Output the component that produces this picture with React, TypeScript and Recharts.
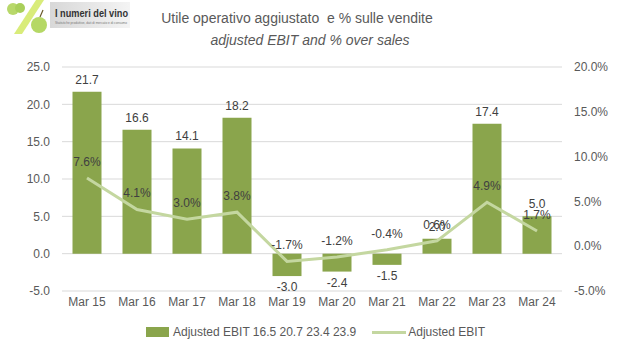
import { Bar, CartesianGrid, ComposedChart, LabelList, Line, XAxis, YAxis } from "recharts"

// data
const months = ["Mar 15", "Mar 16", "Mar 17", "Mar 18", "Mar 19", "Mar 20", "Mar 21", "Mar 22", "Mar 23", "Mar 24"]
const ebit = [21.7, 16.6, 14.1, 18.2, -3.0, -2.4, -1.5, 2.0, 17.4, 5.0]
const ebitPct = [7.6, 4.1, 3.0, 3.8, -1.7, -1.2, -0.4, 0.6, 4.9, 1.7]
const leftTicks = [-5, 0, 5, 10, 15, 20, 25]
const rightTicks = [-5, 0, 5, 10, 15, 20]

const barName = "Adjusted EBIT 16.5 20.7 23.4 23.9"
const lineName = "Adjusted EBIT"

const FONT = '"Liberation Sans", Arial, sans-serif'
const BAR_COLOR = "#8aa54c"
const LINE_COLOR = "#c4d7a0"
const TEXT = "#404040"
const AXIS_TEXT = "#595959"

const chartData = months.map((m, i) => ({ month: m, ebit: ebit[i], pct: ebitPct[i] }))

function BarValueLabel(props: any) {
  const { x, y, width, height, value } = props
  const top = Math.min(y, y + height)
  const bottom = Math.max(y, y + height)
  const cx = x + width / 2
  if (value >= 0) {
    return (
      <text x={cx} y={top - 8} textAnchor="middle" fontSize={12} fill={TEXT} fontFamily={FONT}>
        {value.toFixed(1)}
      </text>
    )
  }
  return (
    <text x={cx} y={bottom + 15} textAnchor="middle" fontSize={12} fill={TEXT} fontFamily={FONT}>
      {value.toFixed(1)}
    </text>
  )
}

function LineValueLabel(props: any) {
  const { x, y, value } = props
  return (
    <text x={x} y={y - 12} textAnchor="middle" fontSize={12} fill={TEXT} fontFamily={FONT}>
      {value.toFixed(1)}%
    </text>
  )
}

function Logo() {
  return (
    <svg width={140} height={40} style={{ position: "absolute", left: 0, top: 0 }}>
      <defs>
        <linearGradient id="logoBg" x1="0" x2="1" y1="0" y2="0">
          <stop offset="0" stopColor="#d8d8d8" />
          <stop offset="1" stopColor="#f4f4f4" />
        </linearGradient>
      </defs>
      <rect x={50} y={2} width={80} height={26} fill="url(#logoBg)" />
      <polygon points="36,0 44,0 22,34 14,34" fill="#d9ec7a" />
      <circle cx={13} cy={9} r={6} fill="#b8d86a" />
      <circle cx={20} cy={8} r={5} fill="#a9cf5a" />
      <circle cx={39} cy={25} r={8} fill="#b5d865" />
      <line x1={40} y1={17} x2={43} y2={10} stroke="#6b5a2a" strokeWidth={1.2} />
      <text x={55} y={17} fontSize={10} fontWeight="bold" fill="#333" fontFamily={FONT} textLength={73} lengthAdjust="spacingAndGlyphs">
        I numeri del vino
      </text>
      <text x={55} y={24} fontSize={3} fill="#777" fontFamily={FONT} textLength={72} lengthAdjust="spacingAndGlyphs">
        Statistiche produttive, dati di mercato e di consumo
      </text>
    </svg>
  )
}

export default function App() {
  return (
    <div style={{ position: "absolute", left: 0, top: 0, width: 622, height: 357, background: "#fff", fontFamily: FONT }}>
      <Logo />
      <div style={{ position: "absolute", left: 0, width: 594, top: 10, textAlign: "center", fontSize: 14, color: AXIS_TEXT }}>
        Utile operativo aggiustato&nbsp; e % sulle vendite
      </div>
      <div style={{ position: "absolute", left: 0, width: 620, top: 32, textAlign: "center", fontSize: 14, color: AXIS_TEXT, fontStyle: "italic" }}>
        adjusted EBIT and % over sales
      </div>

      <ComposedChart
        width={622}
        height={325}
        data={chartData}
        margin={{ top: 67, right: 0, left: 0, bottom: 4 }}
        barCategoryGap="21%"
        style={{ position: "absolute", left: 0, top: 0 }}
      >
        <CartesianGrid vertical={false} stroke="#d9d9d9" yAxisId="left" />
        <XAxis
          dataKey="month"
          axisLine={false}
          tickLine={false}
          tickMargin={0}
          tick={{ fontSize: 12, fill: AXIS_TEXT, fontFamily: FONT }}
          height={30}
        />
        <YAxis
          yAxisId="left"
          domain={[-5, 25]}
          ticks={leftTicks}
          axisLine={false}
          tickLine={false}
          width={62}
          tickMargin={6}
          tickFormatter={(v: number) => v.toFixed(1)}
          tick={{ fontSize: 12, fill: AXIS_TEXT, fontFamily: FONT }}
        />
        <YAxis
          yAxisId="right"
          orientation="right"
          domain={[-5, 20]}
          ticks={rightTicks}
          axisLine={false}
          tickLine={false}
          width={60}
          tickMargin={6}
          tickFormatter={(v: number) => `${v.toFixed(1)}%`}
          tick={{ fontSize: 12, fill: AXIS_TEXT, fontFamily: FONT }}
        />
        <Bar yAxisId="left" dataKey="ebit" name={barName} fill={BAR_COLOR} isAnimationActive={false}>
          <LabelList dataKey="ebit" content={BarValueLabel} />
        </Bar>
        <Line
          yAxisId="right"
          dataKey="pct"
          name={lineName}
          stroke={LINE_COLOR}
          strokeWidth={3}
          dot={false}
          activeDot={false}
          isAnimationActive={false}
        >
          <LabelList dataKey="pct" content={LineValueLabel} />
        </Line>
      </ComposedChart>

      {/* legend */}
      <div style={{ position: "absolute", top: 325, left: 146, display: "flex", alignItems: "center", fontSize: 12, color: AXIS_TEXT }}>
        <span style={{ display: "inline-block", width: 23, height: 10, background: BAR_COLOR, marginRight: 4 }} />
        <span>{barName}</span>
        <span style={{ display: "inline-block", width: 34, height: 3, background: LINE_COLOR, marginLeft: 16, marginRight: 2 }} />
        <span>{lineName}</span>
      </div>
    </div>
  )
}
